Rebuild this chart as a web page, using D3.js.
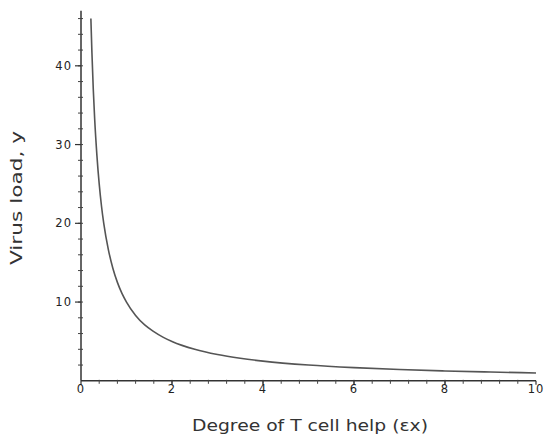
<!DOCTYPE html>
<html>
<head>
    <title>Virus load vs T cell help</title>
    <script src="https://d3js.org/d3.v7.min.js"></script>
    <style>
        body { margin: 0; background: #fff; }
        .tick-label { font-family: "DejaVu Sans", sans-serif; font-size: 11.5px; letter-spacing: 1px; fill: #222; }
        .title { font-family: "DejaVu Sans", sans-serif; font-size: 15px; fill: #333; }
        .line { fill: none; stroke: #555; stroke-width: 1.6px; }
    </style>
</head>
<body>
    <script>
        // Data
        var helpX = [0.217, 0.24, 0.27, 0.3, 0.35, 0.4, 0.45, 0.5, 0.6, 0.7, 0.8, 0.9, 1, 1.2, 1.4, 1.6, 1.8, 2, 2.5, 3, 3.5, 4, 5, 6, 7, 8, 9, 10];
        var virusY = [46, 41.7, 37, 33.3, 28.6, 25, 22.2, 20, 16.7, 14.3, 12.5, 11.1, 10, 8.3, 7.1, 6.25, 5.55, 5, 4, 3.33, 2.86, 2.5, 2, 1.67, 1.43, 1.25, 1.11, 1.0];
        var xTicks = [0, 2, 4, 6, 8, 10];
        var yTicks = [10, 20, 30, 40];

        var data = helpX.map(function(d, i) { return {x: d, y: virusY[i]}; });

        var W = 544, H = 434;
        var margin = {top: 10.7, right: 8, bottom: 53.2, left: 81};
        var width = W - margin.left - margin.right,
            height = H - margin.top - margin.bottom;

        var x = d3.scaleLinear().domain([0, 10]).range([0, width]);
        var y = d3.scaleLinear().domain([0, 47]).range([height, 0]);

        var svg = d3.select("body").append("svg")
            .attr("width", W)
            .attr("height", H);
        var g = svg.append("g")
            .attr("transform", "translate(" + margin.left + "," + margin.top + ")");

        // Axes lines
        g.append("line").attr("x1", 0).attr("x2", 0).attr("y1", 0).attr("y2", height)
            .attr("stroke", "#333").attr("stroke-width", 1.5);
        g.append("line").attr("x1", 0).attr("x2", width).attr("y1", height).attr("y2", height)
            .attr("stroke", "#333").attr("stroke-width", 1.5);

        // Minor ticks
        var yMinor = d3.range(2, 47, 2);
        g.selectAll(".ymin").data(yMinor).enter().append("line")
            .attr("x1", -3).attr("x2", 2)
            .attr("y1", function(d) { return y(d); }).attr("y2", function(d) { return y(d); })
            .attr("stroke", "#444").attr("stroke-width", 1);
        var xMinor = d3.range(0.4, 10, 0.4);
        g.selectAll(".xmin").data(xMinor).enter().append("line")
            .attr("x1", function(d) { return x(d); }).attr("x2", function(d) { return x(d); })
            .attr("y1", height - 1).attr("y2", height + 3)
            .attr("stroke", "#444").attr("stroke-width", 1);

        // Major ticks + labels
        g.selectAll(".ymaj").data(yTicks).enter().append("line")
            .attr("x1", -6).attr("x2", 0)
            .attr("y1", function(d) { return y(d); }).attr("y2", function(d) { return y(d); })
            .attr("stroke", "#333").attr("stroke-width", 1.2);
        g.selectAll(".ylab").data(yTicks).enter().append("text")
            .attr("class", "tick-label")
            .attr("x", -9).attr("y", function(d) { return y(d) + 4; })
            .attr("text-anchor", "end")
            .text(function(d) { return d; });
        g.selectAll(".xmaj").data(xTicks).enter().append("line")
            .attr("x1", function(d) { return x(d); }).attr("x2", function(d) { return x(d); })
            .attr("y1", height).attr("y2", height + 4)
            .attr("stroke", "#333").attr("stroke-width", 1.2);
        g.selectAll(".xlab").data(xTicks).enter().append("text")
            .attr("class", "tick-label")
            .attr("x", function(d) { return x(d); }).attr("y", height + 12)
            .attr("text-anchor", "middle")
            .text(function(d) { return d; });

        // Curve
        var valueline = d3.line()
            .x(function(d) { return x(d.x); })
            .y(function(d) { return y(d.y); })
            .curve(d3.curveMonotoneX);
        g.append("path").datum(data).attr("class", "line").attr("d", valueline);

        // Titles
        svg.append("text").attr("class", "title")
            .attr("x", 310).attr("y", 431)
            .attr("text-anchor", "middle")
            .attr("textLength", 236)
            .attr("lengthAdjust", "spacingAndGlyphs")
            .text("Degree of T cell help (εx)");
        svg.append("text").attr("class", "title")
            .attr("transform", "translate(22,198) rotate(-90)")
            .attr("text-anchor", "middle")
            .attr("textLength", 134)
            .attr("lengthAdjust", "spacingAndGlyphs")
            .text("Virus load, y");
    </script>
</body>
</html>
